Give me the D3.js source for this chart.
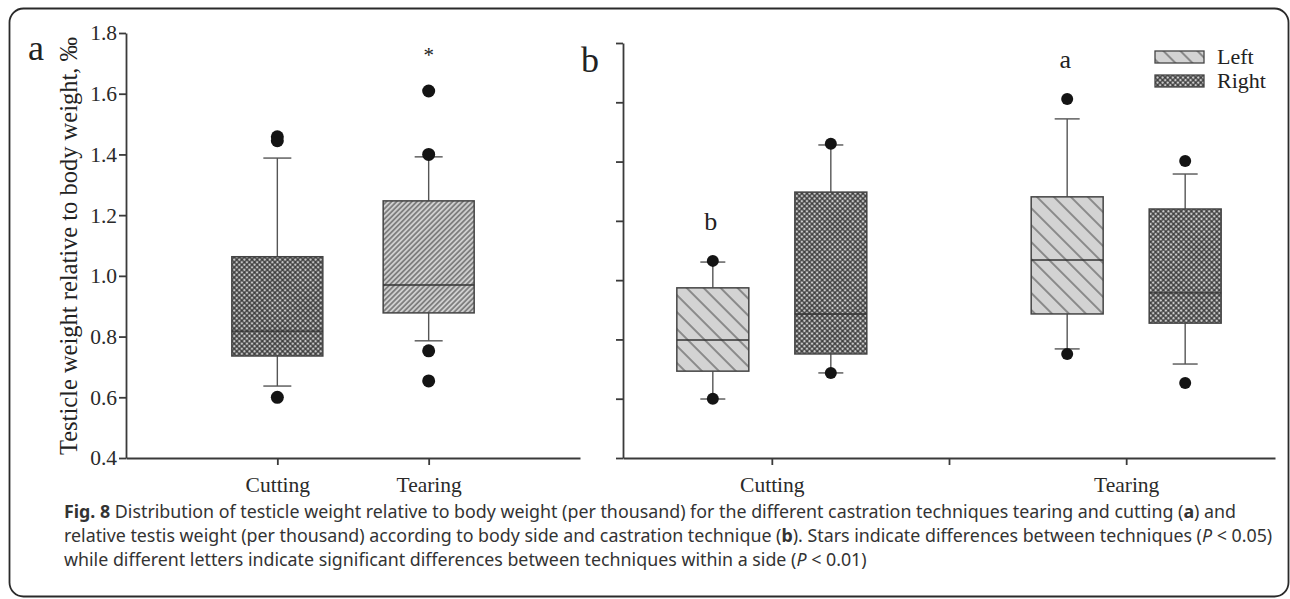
<!DOCTYPE html>
<html>
<head>
    <style>
        body { margin: 0; background: #fff; }
        svg { display: block; }
        .axis path, .axis line { stroke: #3a3a3a; stroke-width: 1.8; }
        .axis text { font: 21.5px "Liberation Serif", serif; fill: #2a2a2a; }
        .serif { font-family: "Liberation Serif", serif; fill: #222; }
        .caption { font: 16px "Noto Sans", sans-serif; fill: #333; }
    </style>
    <script src="https://cdnjs.cloudflare.com/ajax/libs/d3/7.8.5/d3.min.js"></script>
</head>
<body>
    <script>
        // ---- data ----
        var techniques = ["Cutting", "Tearing"];
        var sides = ["Left", "Right"];
        var yTicks = [0.4, 0.6, 0.8, 1.0, 1.2, 1.4, 1.6, 1.8];

        // panel a: one box per technique
        var aLow  = [0.637, 0.786];
        var aQ1   = [0.736, 0.878];
        var aMed  = [0.818, 0.970];
        var aQ3   = [1.063, 1.247];
        var aHigh = [1.388, 1.392];
        var aOut  = [[0.600, 1.445, 1.458], [0.654, 0.753, 1.400, 1.609]];
        var aMarks = ["", "*"];

        // panel b: one box per technique and side
        var bLeftLow   = [0.599, 0.768];
        var bLeftQ1    = [0.693, 0.886];
        var bLeftMed   = [0.798, 1.068];
        var bLeftQ3    = [0.974, 1.281];
        var bLeftHigh  = [1.061, 1.544];
        var bLeftOut   = [[0.600, 1.065], [0.751, 1.611]];
        var bRightLow  = [0.687, 0.717];
        var bRightQ1   = [0.751, 0.855];
        var bRightMed  = [0.886, 0.957];
        var bRightQ3   = [1.297, 1.240];
        var bRightHigh = [1.456, 1.358];
        var bRightOut  = [[0.687, 1.460], [0.653, 1.402]];
        var bLetters   = ["b", "a"];

        var width = 1290, height = 599;

        var svg = d3.select("body").append("svg")
            .attr("width", width)
            .attr("height", height);

        // ---- fill patterns ----
        var defs = svg.append("defs");

        function linePattern(id, gap, angle, bg, crossed) {
            var p = defs.append("pattern")
                .attr("id", id)
                .attr("patternUnits", "userSpaceOnUse")
                .attr("width", gap).attr("height", gap)
                .attr("patternTransform", "rotate(" + angle + ")");
            p.append("rect").attr("width", gap).attr("height", gap).attr("fill", bg);
            p.append("line").attr("x1", 0).attr("x2", gap).attr("y1", gap / 2).attr("y2", gap / 2)
                .attr("stroke", "#2e2e2e").attr("stroke-width", crossed ? 1.2 : 0.9);
            if (crossed) {
                p.append("line").attr("y1", 0).attr("y2", gap).attr("x1", gap / 2).attr("x2", gap / 2)
                    .attr("stroke", "#2e2e2e").attr("stroke-width", 1.2);
            }
        }
        linePattern("crossA", 3.6, 45, "#c4c4c4", true);
        linePattern("hatchA", 3.6, -45, "#cfcfcf", false);
        linePattern("crossB", 3.6, 45, "#cacaca", true);
        linePattern("hatchB", 12, 45, "#d3d3d3", false);

        var aFills = ["url(#crossA)", "url(#hatchA)"];
        var bFills = { Left: "url(#hatchB)", Right: "url(#crossB)" };

        // ---- outer frame ----
        svg.append("rect")
            .attr("x", 9.5).attr("y", 8.5)
            .attr("width", 1279).attr("height", 588)
            .attr("rx", 14).attr("ry", 14)
            .attr("fill", "none")
            .attr("stroke", "#2a2a2a")
            .attr("stroke-width", 1.8);

        function drawBox(g, cx, w, capW, low, q1, med, q3, high, outs, fill, y, r) {
            g.append("line").attr("x1", cx).attr("x2", cx).attr("y1", y(high)).attr("y2", y(q3))
                .attr("stroke", "#555").attr("stroke-width", 1.4);
            g.append("line").attr("x1", cx).attr("x2", cx).attr("y1", y(q1)).attr("y2", y(low))
                .attr("stroke", "#555").attr("stroke-width", 1.4);
            [low, high].forEach(function(v) {
                g.append("line").attr("x1", cx - capW / 2).attr("x2", cx + capW / 2)
                    .attr("y1", y(v)).attr("y2", y(v))
                    .attr("stroke", "#555").attr("stroke-width", 1.4);
            });
            g.append("rect")
                .attr("x", cx - w / 2).attr("y", y(q3))
                .attr("width", w).attr("height", y(q1) - y(q3))
                .attr("fill", fill)
                .attr("stroke", "#444").attr("stroke-width", 1.5);
            g.append("line").attr("x1", cx - w / 2).attr("x2", cx + w / 2)
                .attr("y1", y(med)).attr("y2", y(med))
                .attr("stroke", "#333").attr("stroke-width", 1.4);
            g.selectAll(null).data(outs).enter().append("circle")
                .attr("cx", cx).attr("cy", function(d) { return y(d); })
                .attr("r", r).attr("fill", "#141414");
        }

        // ---- panel a ----
        var xa = d3.scalePoint().domain(techniques).range([126, 580]).padding(1);
        var ya = d3.scaleLinear().domain([0.4, 1.8]).range([458, 33]);
        var ga = svg.append("g");

        ga.append("g").attr("class", "axis")
            .attr("transform", "translate(126,0)")
            .call(d3.axisLeft(ya).tickValues(yTicks).tickFormat(d3.format(".1f"))
                .tickSize(7).tickSizeOuter(0).tickPadding(2));
        ga.append("g").attr("class", "axis")
            .attr("transform", "translate(0,458)")
            .call(d3.axisBottom(xa).tickSize(7).tickSizeOuter(0).tickPadding(12));

        techniques.forEach(function(t, i) {
            drawBox(ga, xa(t), 91, 28, aLow[i], aQ1[i], aMed[i], aQ3[i], aHigh[i], aOut[i], aFills[i], ya, 6.5);
            ga.append("text").attr("class", "serif")
                .attr("x", xa(t)).attr("y", ya(d3.max(aOut[i])) - 29)
                .attr("text-anchor", "middle").attr("font-size", 21)
                .text(aMarks[i]);
        });

        ga.append("text").attr("class", "serif")
            .attr("transform", "translate(77,246) rotate(-90)")
            .attr("text-anchor", "middle").attr("font-size", 24.5)
            .text("Testicle weight relative to body weight, \u2030");

        ga.append("text").attr("class", "serif")
            .attr("x", 28).attr("y", 60).attr("font-size", 36).text("a");

        // ---- panel b ----
        var xb = d3.scalePoint().domain(["Cutting", "mid", "Tearing"]).range([623, 1275]).padding(0.84);
        var sb = d3.scaleBand().domain(sides).range([-118, 118]).paddingInner(0.39).paddingOuter(0.195);
        var yb = d3.scaleLinear().domain([0.4, 1.8]).range([458, 43]);
        var gb = svg.append("g");

        gb.append("g").attr("class", "axis")
            .attr("transform", "translate(623,0)")
            .call(d3.axisLeft(yb).tickValues(yTicks).tickFormat("").tickSize(7).tickSizeOuter(0));
        gb.append("g").attr("class", "axis")
            .attr("transform", "translate(0,458)")
            .call(d3.axisBottom(xb).tickSize(7).tickSizeOuter(0).tickPadding(12)
                .tickFormat(function(d) { return d === "mid" ? "" : d; }));

        techniques.forEach(function(t, i) {
            var cl = xb(t) + sb("Left") + sb.bandwidth() / 2;
            var cr = xb(t) + sb("Right") + sb.bandwidth() / 2;
            drawBox(gb, cl, sb.bandwidth(), 25, bLeftLow[i], bLeftQ1[i], bLeftMed[i], bLeftQ3[i], bLeftHigh[i], bLeftOut[i], bFills.Left, yb, 6);
            drawBox(gb, cr, sb.bandwidth(), 25, bRightLow[i], bRightQ1[i], bRightMed[i], bRightQ3[i], bRightHigh[i], bRightOut[i], bFills.Right, yb, 6);
            gb.append("text").attr("class", "serif")
                .attr("x", cl - 2).attr("y", yb(d3.max(bLeftOut[i])) - 31)
                .attr("text-anchor", "middle").attr("font-size", 26)
                .text(bLetters[i]);
        });

        gb.append("text").attr("class", "serif")
            .attr("x", 581).attr("y", 72).attr("font-size", 36).text("b");

        // legend
        var legend = gb.append("g").attr("transform", "translate(1155,51)");
        sides.forEach(function(s, i) {
            var row = legend.append("g").attr("transform", "translate(0," + i * 24 + ")");
            row.append("rect").attr("width", 49).attr("height", 12)
                .attr("fill", bFills[s]).attr("stroke", "#444").attr("stroke-width", 1.3);
            row.append("text").attr("class", "serif")
                .attr("x", 62).attr("y", 12.5).attr("font-size", 22).text(s);
        });

        // ---- caption ----
        var capLines = [
            [["b", "Fig. 8"], ["", " Distribution of testicle weight relative to body weight (per thousand) for the different castration techniques tearing and cutting ("], ["b", "a"], ["", ") and"]],
            [["", "relative testis weight (per thousand) according to body side and castration technique ("], ["b", "b"], ["", "). Stars indicate differences between techniques ("], ["i", "P"], ["", " < 0.05)"]],
            [["", "while different letters indicate significant differences between techniques within a side ("], ["i", "P"], ["", " < 0.01)"]]
        ];
        var cap = svg.append("g");
        capLines.forEach(function(parts, i) {
            var t = cap.append("text").attr("class", "caption")
                .attr("x", 64).attr("y", 518 + i * 24);
            parts.forEach(function(p) {
                var ts = t.append("tspan").text(p[1]);
                if (p[0] === "b") ts.attr("font-weight", "bold");
                if (p[0] === "i") ts.attr("font-style", "italic");
            });
        });
        // scale the caption so the second line ends where it does in the figure
        var w2 = cap.selectAll("text").nodes()[1].getComputedTextLength();
        cap.selectAll("text").style("font-size", (16 * 1209 / w2) + "px");
    </script>
</body>
</html>
